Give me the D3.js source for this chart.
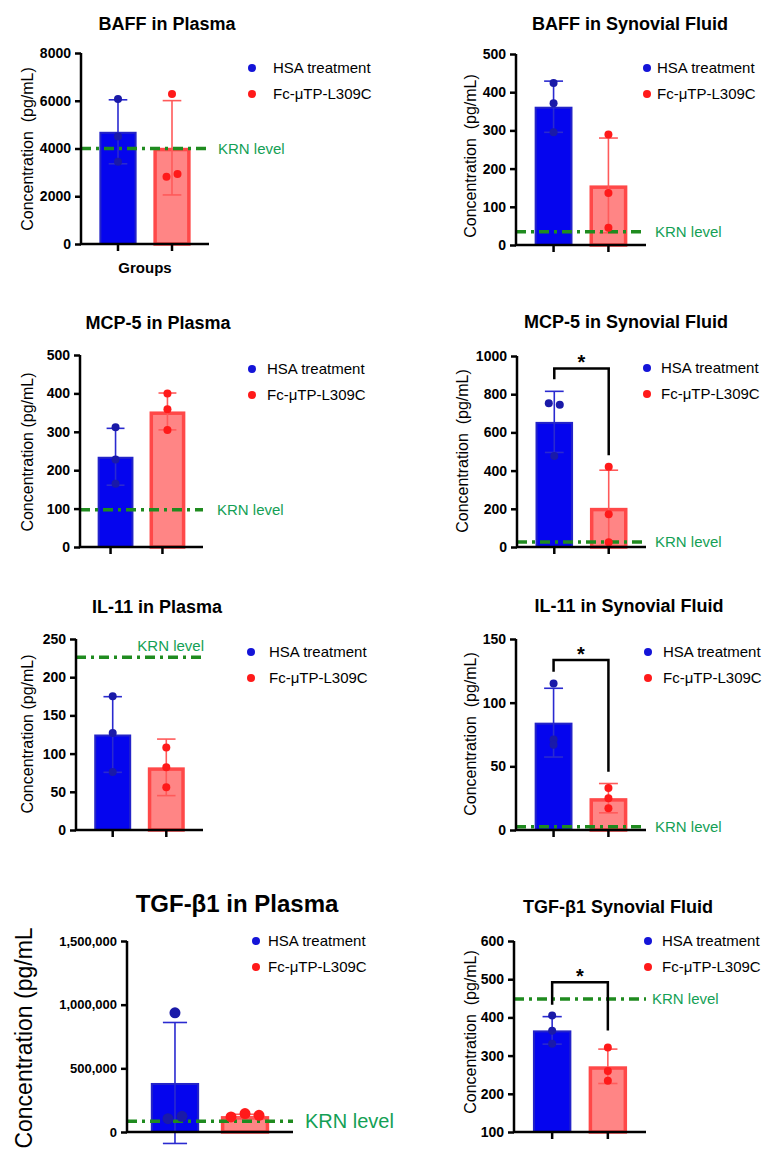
<!DOCTYPE html>
<html>
<head>
<meta charset="utf-8">
<script src="https://cdn.jsdelivr.net/npm/d3@7"></script>
<style>
body { margin: 0; background: #fff; }
svg text { font-family: "Liberation Sans", Arial, sans-serif; }
</style>
</head>
<body>
<svg id="chart" width="781" height="1153"></svg>
<script>
// ---- data ----
var groups = ["HSA treatment", "Fc-μTP-L309C"];

var titles = ["BAFF in Plasma", "BAFF in Synovial Fluid", "MCP-5 in Plasma", "MCP-5 in Synovial Fluid",
	"IL-11 in Plasma", "IL-11 in Synovial Fluid", "TGF-β1 in Plasma", "TGF-β1 Synovial Fluid"];

var yLabels = ["Concentration  (pg/mL)", "Concentration  (pg/mL)", "Concentration (pg/mL)", "Concentration  (pg/mL)",
	"Concentration (pg/mL)", "Concentration  (pg/mL)", "Concentration (pg/mL", "Concentration  (pg/mL)"];

var yDomains = [[0, 8000], [0, 500], [0, 500], [0, 1000], [0, 250], [0, 150], [0, 1500000], [100, 600]];

var yTicks = [
	[0, 2000, 4000, 6000, 8000],
	[0, 100, 200, 300, 400, 500],
	[0, 100, 200, 300, 400, 500],
	[0, 200, 400, 600, 800, 1000],
	[0, 50, 100, 150, 200, 250],
	[0, 50, 100, 150],
	[0, 500000, 1000000, 1500000],
	[100, 200, 300, 400, 500, 600]
];

var hsaMeans = [4700, 362, 235, 655, 125, 84.3, 385000, 366];
var hsaSD = [1340, 67, 74, 160, 49.5, 27, 475000, 36];
var fcMeans = [4030, 156, 353, 205, 82, 25, 125000, 272];
var fcSD = [1975, 124, 48, 197, 37, 11.5, 14000, 45];

var hsaPoints = [
	[6070, 4500, 3450], [424, 371, 295], [312, 228, 165], [752, 745, 477],
	[175, 127, 76], [115, 71, 67], [936000, 105000, 123000], [405, 365, 331]
];
var fcPoints = [
	[6280, 2820, 2935], [289, 136, 45], [400, 359, 305], [420, 171, 25],
	[108, 82, 56], [33, 25, 17], [118000, 145000, 131000], [321, 260, 234]
];

var krnLevels = [4000, 35, 97, 26, 226, 2.6, 84000, 448];

// [bracket top, left leg end, right leg end]
var sigBrackets = [null, null, null, [935, 878, 481], null, [133.5, 124.3, 45.8], null, [492, 433, 365.5]];

// ---- panel placement ----
var layout = [
	{x0: 81, x1: 209, yT: 53, yB: 244, tx: 167, ty: 30, lx: 27, ly: 149, dotX: 252, legX: 273, legY: 68, krnX: 218},
	{x0: 516, x1: 646, yT: 54, yB: 245, tx: 630, ty: 30, lx: 470, ly: 156, dotX: 647, legX: 657, legY: 68, krnX: 655},
	{x0: 80, x1: 203, yT: 355, yB: 547, tx: 158, ty: 329, lx: 27, ly: 452, dotX: 252, legX: 267, legY: 369, krnX: 217, tickShift: -5},
	{x0: 517, x1: 646, yT: 356, yB: 547, tx: 626, ty: 328, lx: 462, ly: 451, dotX: 647, legX: 661, legY: 368, krnX: 655},
	{x0: 76, x1: 203, yT: 639, yB: 830, tx: 157, ty: 613, lx: 27, ly: 734, dotX: 251, legX: 269, legY: 652, krnAbove: true},
	{x0: 516, x1: 646, yT: 639, yB: 830, tx: 629, ty: 612, lx: 470, ly: 734, dotX: 648, legX: 663, legY: 652, krnX: 655},
	{x0: 127, x1: 293, yT: 941, yB: 1132, tx: 237, ty: 912, lx: 24, ly: 1038, dotX: 256, legX: 268, legY: 941, krnX: 305,
		big: true, noXTicks: true},
	{x0: 514, x1: 646, yT: 941, yB: 1132, tx: 618, ty: 913, lx: 470, ly: 1032, dotX: 648, legX: 662, legY: 941, krnX: 652}
];

var blue = {fill: "#0505ee", stroke: "#2424c8", err: "#2a2ad0", dot: "#1a1aa8", leg: "#1414d8"};
var red = {fill: "#ff8585", stroke: "#ff4848", err: "#ff5a5a", dot: "#ff1a1a", leg: "#ff1a1a"};
var green = "#1f8b1f";
var greenText = "#13a055";

var svg = d3.select("#chart");

// spread overlapping points sideways, like a column scatter
function spreadPoints(vals, y, r) {
	var pts = vals.map(function(v, k) { return {v: v, py: y(v), idx: k, dx: 0}; })
		.sort(function(a, b) { return a.py - b.py; });
	var clusters = [];
	pts.forEach(function(p) {
		var last = clusters[clusters.length - 1];
		if (last && p.py - last[last.length - 1].py < r) last.push(p);
		else clusters.push([p]);
	});
	clusters.forEach(function(c) {
		c.sort(function(a, b) { return a.idx - b.idx; });
		c.forEach(function(p, k) { p.dx = (k - (c.length - 1) / 2) * (2 * r + 3); });
	});
	return pts;
}

titles.forEach(function(title, i) {
	var L = layout[i];
	var g = svg.append("g");

	var y = d3.scaleLinear().domain(yDomains[i]).range([L.yB, L.yT]);
	var x = d3.scaleBand().domain(groups).range([L.x0, L.x1]).paddingInner(0.31).paddingOuter(0.34);
	var bw = x.bandwidth();
	var r = L.big ? 5.5 : 4;

	var series = [
		{name: groups[0], mean: hsaMeans[i], sd: hsaSD[i], pts: hsaPoints[i], c: blue, sw: 2},
		{name: groups[1], mean: fcMeans[i], sd: fcSD[i], pts: fcPoints[i], c: red, sw: 3.5}
	];

	// bars
	g.selectAll(".bar").data(series).enter().append("rect")
		.attr("x", function(d) { return x(d.name) + d.sw / 2; })
		.attr("width", function(d) { return bw - d.sw; })
		.attr("y", function(d) { return y(d.mean) + d.sw / 2; })
		.attr("height", function(d) { return y(yDomains[i][0]) - y(d.mean) - d.sw / 2; })
		.attr("fill", function(d) { return d.c.fill; })
		.attr("stroke", function(d) { return d.c.stroke; })
		.attr("stroke-width", function(d) { return d.sw; });

	// error bars (mean +/- SD)
	var capW = bw * 0.25;
	series.forEach(function(d) {
		var cx = x(d.name) + bw / 2;
		var eg = g.append("g").attr("stroke", d.c.err).attr("stroke-width", 1.6);
		eg.append("line").attr("x1", cx).attr("x2", cx).attr("y1", y(d.mean - d.sd)).attr("y2", y(d.mean + d.sd));
		[d.mean - d.sd, d.mean + d.sd].forEach(function(v) {
			eg.append("line").attr("x1", cx - capW).attr("x2", cx + capW).attr("y1", y(v)).attr("y2", y(v));
		});
	});

	// KRN reference line
	var ky = y(krnLevels[i]);
	g.append("line").attr("x1", L.x0).attr("x2", L.x1).attr("y1", ky).attr("y2", ky)
		.attr("stroke", green).attr("stroke-width", 3.5).attr("stroke-dasharray", "10,5,3,5");
	var krnText = g.append("text").attr("fill", greenText).attr("font-size", L.big ? 20 : 15).text("KRN level");
	if (L.krnAbove) {
		krnText.attr("x", L.x1 + 1).attr("y", ky - 6).attr("text-anchor", "end");
	} else {
		krnText.attr("x", L.krnX).attr("y", ky).attr("dy", "0.35em");
	}

	// individual points
	series.forEach(function(d) {
		var cx = x(d.name) + bw / 2;
		g.selectAll(null).data(spreadPoints(d.pts, y, r)).enter().append("circle")
			.attr("cx", function(p) { return cx + p.dx; })
			.attr("cy", function(p) { return p.py; })
			.attr("r", r)
			.attr("fill", d.c.dot);
	});

	// axes
	var fmt = L.big ? d3.format(",") : d3.format("d");
	var yAxis = g.append("g").attr("transform", "translate(" + L.x0 + ",0)")
		.call(d3.axisLeft(y).tickValues(yTicks[i]).tickSize(6).tickPadding(4).tickFormat(fmt));
	yAxis.select(".domain").remove();
	yAxis.selectAll("line").attr("stroke", "#000").attr("stroke-width", 2.5);
	yAxis.selectAll("text").attr("fill", "#000").attr("font-weight", "bold")
		.attr("font-size", L.big ? 13 : 14).attr("font-family", "Liberation Sans, Arial, sans-serif");

	if (!L.noXTicks) {
		var shift = L.tickShift || 0;
		var xt = x.copy().range([L.x0 + shift, L.x1 + shift]);
		var xAxis = g.append("g").attr("transform", "translate(0," + L.yB + ")")
			.call(d3.axisBottom(xt).tickSize(7).tickFormat(""));
		xAxis.select(".domain").remove();
		xAxis.selectAll("line").attr("stroke", "#000").attr("stroke-width", 2.5);
	}

	g.append("path")
		.attr("d", "M" + L.x0 + "," + L.yT + "V" + L.yB + "H" + L.x1)
		.attr("fill", "none").attr("stroke", "#000").attr("stroke-width", 2.5);

	// significance bracket
	var sb = sigBrackets[i];
	if (sb) {
		var xa = x(groups[0]) + bw / 2, xb = x(groups[1]) + bw / 2;
		g.append("path")
			.attr("d", "M" + xa + "," + y(sb[1]) + "V" + y(sb[0]) + "H" + xb + "V" + y(sb[2]))
			.attr("fill", "none").attr("stroke", "#000").attr("stroke-width", 2.5);
		g.append("text").attr("x", (xa + xb) / 2).attr("y", y(sb[0]) + 1)
			.attr("text-anchor", "middle").attr("font-weight", "bold").attr("font-size", 20).text("*");
	}

	// title
	g.append("text").attr("x", L.tx).attr("y", L.ty).attr("text-anchor", "middle")
		.attr("font-weight", "bold").attr("font-size", L.big ? 24 : 18).text(title);

	// y label
	g.append("text").attr("transform", "translate(" + L.lx + "," + L.ly + ") rotate(-90)")
		.attr("text-anchor", "middle").attr("dy", "0.35em").style("white-space", "pre")
		.attr("font-size", L.big ? 23 : 16).text(yLabels[i]);

	// legend
	series.forEach(function(d, k) {
		var ly = L.legY + k * 26;
		g.append("circle").attr("cx", L.dotX).attr("cy", ly).attr("r", 4).attr("fill", d.c.leg);
		g.append("text").attr("x", L.legX).attr("y", ly).attr("dy", "0.35em").attr("font-size", 15).text(d.name);
	});
});

svg.append("text").attr("x", 145).attr("y", 273).attr("text-anchor", "middle")
	.attr("font-weight", "bold").attr("font-size", 15).text("Groups");
</script>
</body>
</html>
